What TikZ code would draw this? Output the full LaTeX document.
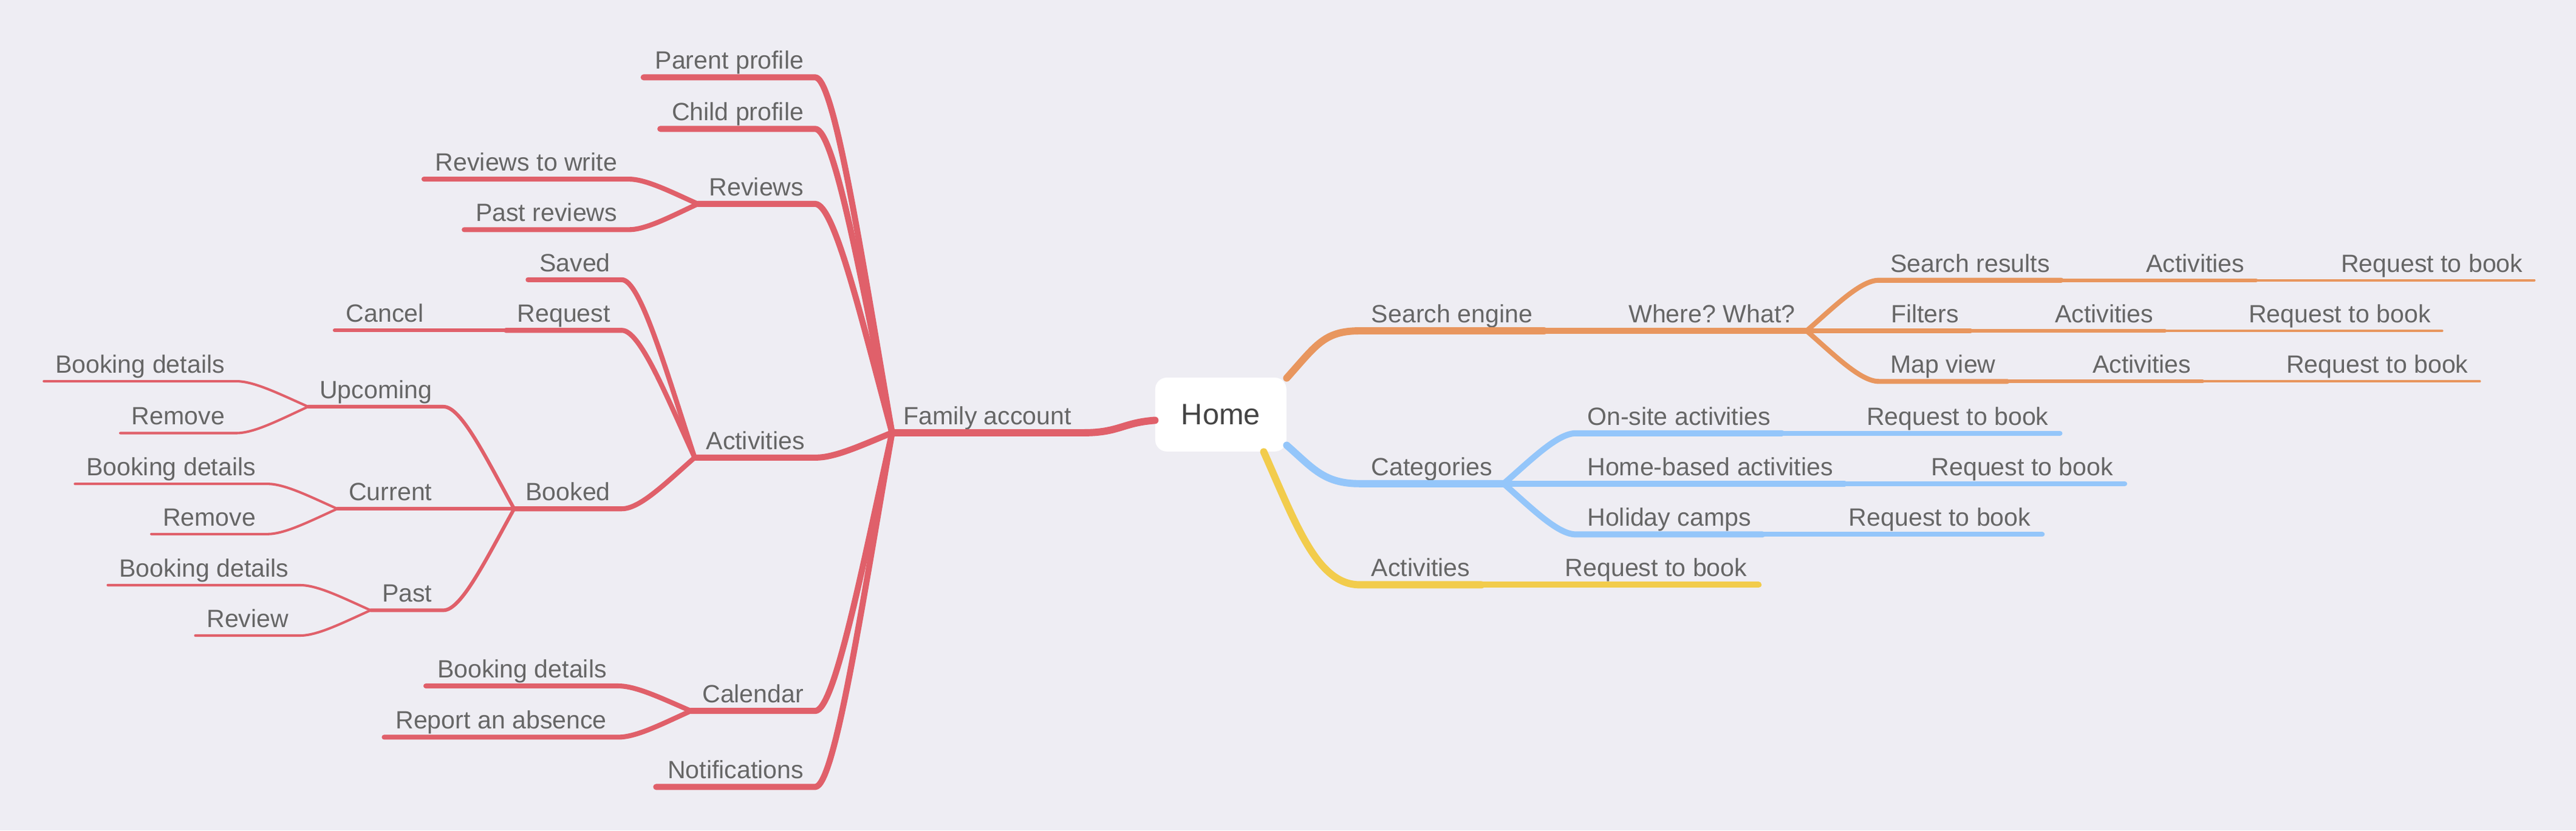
\documentclass[tikz,border=0pt]{standalone}
\usepackage{fontspec}
\setmainfont{Liberation Sans}
\frenchspacing
\usetikzlibrary{calc}
\definecolor{bgc}{HTML}{EEEDF3}
\definecolor{txt}{HTML}{666666}
\definecolor{hometxt}{HTML}{444444}
\definecolor{redc}{HTML}{E0606A}
\definecolor{orc}{HTML}{E8965E}
\definecolor{blc}{HTML}{94C6FA}
\definecolor{ylc}{HTML}{F2CC4C}
\tikzset{
  topic/.style={font=\fontsize{15.2}{18}\selectfont, text=txt, inner xsep=7pt, inner ysep=0pt, outer sep=0pt, text height=11pt, text depth=5pt},
  root/.style={fill=white, rounded corners=7pt, minimum width=79.8pt, minimum height=45pt, font=\fontsize{18}{22}\selectfont, text=hometxt},
  lv1/.style={line width=4.4pt}
}
% far end, near end, knot of the parent
\newcommand\twig[4]{\draw[#1] let \p1=(#3), \p2=(#4) in (#2) -- (\p1) .. controls ({\x1+0.25*(\x2-\x1)},\y1) and ({\x1+0.6*(\x2-\x1)},{\y1+0.5*(\y2-\y1)}) .. (\p2);}
\begin{document}
\begin{tikzpicture}[x=1pt,y=-1pt,line cap=round,line join=round]
\fill[bgc] (0,0) rectangle (1568,505.8);
\node[root] (home) at (743.1,252.5) {Home};
% right side
\begin{scope}[every node/.style={topic,anchor=south west}]
  \node (se) at (827.8,201.5) {Search engine};
  \node (ww) at (984.3,201.5) {Where? What?};
  \node (sr) at (1143.6,170.7) {Search results};
  \node (sra) at (1299.3,170.7) {Activities};
  \node (srb) at (1417.9,170.7) {Request to book};
  \node (fi) at (1144,201.5) {Filters};
  \node (fia) at (1243.8,201.5) {Activities};
  \node (fib) at (1361.8,201.5) {Request to book};
  \node (mv) at (1143.6,232.3) {Map view};
  \node (mva) at (1266.7,232.3) {Activities};
  \node (mvb) at (1384.7,232.3) {Request to book};
  \node (ca) at (827.8,294.6) {Categories};
  \node (os) at (959.2,263.9) {On-site activities};
  \node (osb) at (1129.2,263.9) {Request to book};
  \node (hb) at (959.2,294.6) {Home-based activities};
  \node (hbb) at (1168.6,294.6) {Request to book};
  \node (hc) at (959.2,325.5) {Holiday camps};
  \node (hcb) at (1118.4,325.5) {Request to book};
  \node (ya) at (827.8,356.2) {Activities};
  \node (yb) at (945.7,356.2) {Request to book};
\end{scope}
% left side
\begin{scope}[every node/.style={topic,anchor=south east}]
  \node (fa) at (659.2,263.6) {Family account};
  \node (pp) at (496.2,47.1) {Parent profile};
  \node (cp) at (496.2,78.5) {Child profile};
  \node (rv) at (496.2,124.2) {Reviews};
  \node (rw) at (382.7,109.1) {Reviews to write};
  \node (pr) at (382.7,139.9) {Past reviews};
  \node (ac) at (496.8,278.7) {Activities};
  \node (sv) at (378.5,170.4) {Saved};
  \node (rq) at (378.5,201.2) {Request};
  \node (cn) at (265,201.2) {Cancel};
  \node (bk) at (378.5,309.9) {Booked};
  \node (up) at (270,247.7) {Upcoming};
  \node (ub) at (143.8,232.2) {Booking details};
  \node (ur) at (143.8,263.8) {Remove};
  \node (cu) at (270,309.9) {Current};
  \node (cb) at (162.7,294.7) {Booking details};
  \node (cr) at (162.7,325.3) {Remove};
  \node (pa) at (270,371.7) {Past};
  \node (pb) at (182.7,356.4) {Booking details};
  \node (pv) at (182.7,387.1) {Review};
  \node (cl) at (496.2,433) {Calendar};
  \node (cd) at (376.3,417.8) {Booking details};
  \node (ra) at (376.3,449) {Report an absence};
  \node (nt) at (496.2,479.3) {Notifications};
\end{scope}
% branches out of Home
\draw[redc,lv1] (home.185) .. controls +(-20,1.5) and +(22,0) .. (fa.south east) -- (fa.south west);
\draw[orc,lv1] (home.29) .. controls +(18,-20) and +(-22,0) .. (se.south west) -- (se.south east);
\draw[blc,lv1] (home.-25) .. controls +(16,14) and +(-22,0) .. (ca.south west) -- (ca.south east);
\draw[ylc,lv1] (home.-41) .. controls +(20,45) and +(-26,0) .. (ya.south west) -- (ya.south east);
% deeper levels
\foreach \kid/\dad/\lw in {pp/fa/3.7,cp/fa/3.7,rv/fa/3.7,ac/fa/3.7,cl/fa/3.7,nt/fa/3.7,
  rw/rv/3,pr/rv/3,sv/ac/3,rq/ac/3,bk/ac/3,cd/cl/3,ra/cl/3,cn/rq/2.2,up/bk/2.2,cu/bk/2.2,pa/bk/2.2,
  ub/up/1.5,ur/up/1.5,cb/cu/1.5,cr/cu/1.5,pb/pa/1.5,pv/pa/1.5}
  \twig{redc,line width=\lw pt}{\kid.south west}{\kid.south east}{\dad.south west};
\foreach \kid/\dad/\lw in {ww/se/3.7,sr/ww/3,fi/ww/3,mv/ww/3,sra/sr/2.2,fia/fi/2.2,mva/mv/2.2,
  srb/sra/1.5,fib/fia/1.5,mvb/mva/1.5}
  \twig{orc,line width=\lw pt}{\kid.south east}{\kid.south west}{\dad.south east};
\foreach \kid/\dad/\lw in {os/ca/3.7,hb/ca/3.7,hc/ca/3.7,osb/os/3,hbb/hb/3,hcb/hc/3}
  \twig{blc,line width=\lw pt}{\kid.south east}{\kid.south west}{\dad.south east};
\twig{ylc,line width=3.7pt}{yb.south east}{yb.south west}{ya.south east}
\end{tikzpicture}
\end{document}
